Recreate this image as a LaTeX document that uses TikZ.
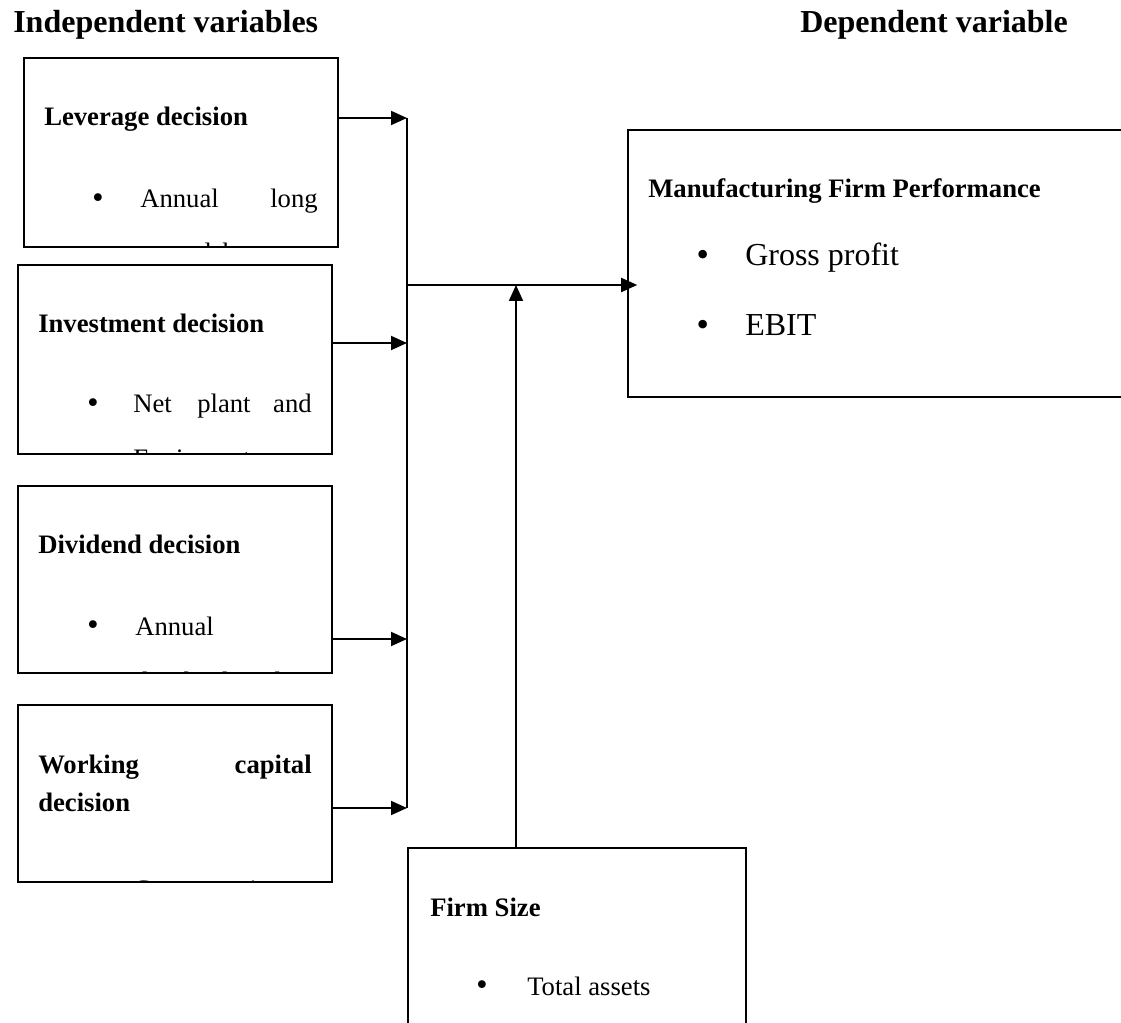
\documentclass[tikz,border=0pt]{standalone}
\usepackage{fontspec}
\setmainfont{Liberation Serif}
\newfontfamily\bulletfont{DejaVu Sans}
\usetikzlibrary{arrows.meta}

\tikzset{
  box/.style={draw, line width=1.2pt, rectangle, inner sep=0pt},
  txt/.style={inner sep=0pt, anchor=base west, font=\fontsize{20}{24}\selectfont},
  ttl/.style={txt, font=\fontsize{20}{24}\selectfont\bfseries},
  hdr/.style={txt, font=\fontsize{24}{28}\selectfont\bfseries},
  big/.style={txt, font=\fontsize{24}{28}\selectfont},
  dot/.style={inner sep=0pt, anchor=center, font=\fontsize{20}{24}\bulletfont},
  arr/.style={line width=1.4pt, -{Triangle[length=12pt,width=10.5pt]}}
}

\begin{document}
\begin{tikzpicture}[x=0.75pt,y=0.75pt,yscale=-1,xscale=1]
\useasboundingbox (0,0) rectangle (1121,1023);

% Text Node
\node (hind) [hdr] at (13,33) {Independent variables};
% Text Node
\node (hdep) [hdr] at (800,33) {Dependent variable};

%Shape: Rectangle [id:lev]
\node (lev) [box, minimum width=235.5pt, minimum height=141.75pt] at (181,152.5) {};
%Shape: Rectangle [id:inv]
\node (inv) [box, minimum width=235.5pt, minimum height=141.75pt] at (175,359.5) {};
%Shape: Rectangle [id:div]
\node (div) [box, minimum width=235.5pt, minimum height=140.25pt] at (175,579.5) {};
%Shape: Rectangle [id:wcap]
\node (wcap) [box, minimum width=235.5pt, minimum height=132.75pt] at (175,793.5) {};
%Shape: Rectangle [id:perf]
\node (perf) [box, minimum width=384pt, minimum height=200.25pt] at (884,263.5) {};
%Shape: Rectangle [id:size]
\node (size) [box, minimum width=253.5pt, minimum height=159pt] at (577,954) {};

% Leverage decision
\node (levt) [ttl] at (44,126) {Leverage decision};
\node (levb) [dot] at (98,201) {•};
\node (leva) [txt] at (140,208) {Annual};
\node (levl) [txt, anchor=base east] at (318,208) {long};
\begin{scope}
\clip (lev.south west) rectangle (lev.north east);
\node (levc) [txt] at (142,262) {term debt};
\end{scope}

% Investment decision
\node (invt) [ttl] at (38,333) {Investment decision};
\node (invb) [dot] at (93,406) {•};
\node (inva) [txt] at (133,413) {Net};
\node (invp) [txt] at (197,413) {plant};
\node (invn) [txt, anchor=base east] at (312,413) {and};
\begin{scope}
\clip (inv.south west) rectangle (inv.north east);
\node (invc) [txt] at (133,468) {Equipment};
\end{scope}

% Dividend decision
\node (divt) [ttl] at (38,553) {Dividend decision};
\node (divb) [dot] at (93,628) {•};
\node (diva) [txt] at (135,635) {Annual};
\begin{scope}
\clip (div.south west) rectangle (div.north east);
\node (divc) [txt] at (135,690) {dividend paid};
\end{scope}

% Working capital decision
\node (wcapt) [ttl] at (38,773) {Working};
\node (wcapk) [ttl, anchor=base east] at (312,773) {capital};
\node (wcapd) [ttl] at (38,811) {decision};
\begin{scope}
\clip (wcap.south west) rectangle (wcap.north east);
\node (wcapc) [txt] at (133,898) {Current ratio};
\end{scope}

% Manufacturing Firm Performance
\node (perft) [ttl] at (648,198) {Manufacturing Firm Performance};
\node (perfb1) [dot, font=\fontsize{22}{26}\bulletfont] at (703,258) {•};
\node (perfg) [big] at (745,266) {Gross profit};
\node (perfb2) [dot, font=\fontsize{22}{26}\bulletfont] at (703,328) {•};
\node (perfe) [big] at (745,336) {EBIT};

% Firm Size
\node (sizet) [ttl] at (430,916) {Firm Size};
\node (sizeb) [dot] at (482,988) {•};
\node (sizea) [txt] at (527,995) {Total assets};

% bus and arrows
\coordinate (b1) at (407,118);
\coordinate (b2) at (407,343);
\coordinate (b3) at (407,639);
\coordinate (b4) at (407,808);
\coordinate (j) at (407,285);
\coordinate (k) at (516,285);
\draw[arr] (lev.east |- b1) -- (b1);
\draw[arr] (inv.east |- b2) -- (b2);
\draw[arr] (div.east |- b3) -- (b3);
\draw[arr] (wcap.east |- b4) -- (b4);
\draw[line width=1.4pt] (b1) -- (b4);
\draw[arr] (j) -- ([xshift=7.5pt]perf.west |- j);
\draw[arr] (size.north -| k) -- (k);

\end{tikzpicture}
\end{document}
